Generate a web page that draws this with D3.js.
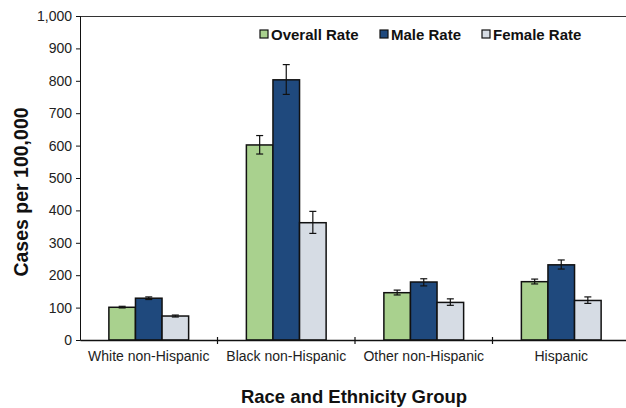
<!DOCTYPE html>
<html>
<head>
<meta charset="utf-8">
<script src="https://cdn.jsdelivr.net/npm/d3@7"></script>
<style>
  body { margin: 0; background: #fff; }
  svg text { font-family: "Liberation Sans", Arial, sans-serif; }
</style>
</head>
<body>
<div id="chart"></div>
<script>
// data
var categories = ['White non-Hispanic', 'Black non-Hispanic', 'Other non-Hispanic', 'Hispanic'];
var seriesNames = ['Overall Rate', 'Male Rate', 'Female Rate'];
var seriesColors = ['#a9d18e', '#1f497d', '#d6dce4'];
var overallRate = [101, 602, 146, 180];
var maleRate = [129, 803, 179, 232];
var femaleRate = [74, 362, 116, 122];
var overallErr = [[99, 104], [574, 631], [139, 154], [173, 188]];
var maleErr = [[125, 133], [758, 850], [167, 189], [219, 247]];
var femaleErr = [[71, 77], [329, 397], [107, 127], [113, 133]];
var yTicks = [0, 100, 200, 300, 400, 500, 600, 700, 800, 900, 1000];

var W = 626, H = 408;
var margin = {top: 16, left: 80, bottom: 68};
var plotW = 550, plotH = H - margin.top - margin.bottom;

var svg = d3.select('#chart').append('svg')
	.attr('width', W)
	.attr('height', H);

var g = svg.append('g')
	.attr('transform', 'translate(' + margin.left + ',' + margin.top + ')');

var x = d3.scaleBand()
	.domain(categories)
	.range([0, plotW])
	.paddingInner(0.42)
	.paddingOuter(0.21);

var xSub = d3.scaleBand()
	.domain(seriesNames)
	.range([0, x.bandwidth()]);

var y = d3.scaleLinear()
	.domain([0, 1000])
	.range([plotH, 0]);

// top border of plot area
g.append('line')
	.attr('x1', 0).attr('x2', plotW)
	.attr('y1', 0.5).attr('y2', 0.5)
	.attr('stroke', '#333')
	.attr('stroke-width', 1);

var values = [overallRate, maleRate, femaleRate];
var errs = [overallErr, maleErr, femaleErr];

seriesNames.forEach(function (name, si) {
	g.selectAll('.bar' + si)
		.data(categories)
		.enter()
		.append('rect')
		.attr('x', function (d) { return x(d) + xSub(name); })
		.attr('y', function (d, i) { return y(values[si][i]); })
		.attr('width', xSub.bandwidth())
		.attr('height', function (d, i) { return plotH - y(values[si][i]); })
		.attr('fill', seriesColors[si])
		.attr('stroke', '#111')
		.attr('stroke-width', 1.5);
});

// error bars
seriesNames.forEach(function (name, si) {
	categories.forEach(function (c, i) {
		var cx = x(c) + xSub(name) + xSub.bandwidth() / 2;
		var lo = y(errs[si][i][0]), hi = y(errs[si][i][1]);
		var eb = g.append('g').attr('stroke', '#111').attr('stroke-width', 1.2);
		eb.append('line').attr('x1', cx).attr('x2', cx).attr('y1', lo).attr('y2', hi);
		eb.append('line').attr('x1', cx - 3.5).attr('x2', cx + 3.5).attr('y1', lo).attr('y2', lo);
		eb.append('line').attr('x1', cx - 3.5).attr('x2', cx + 3.5).attr('y1', hi).attr('y2', hi);
	});
});

// y axis
var yAxis = g.append('g')
	.call(d3.axisLeft(y).tickValues(yTicks).tickSize(4).tickPadding(4)
		.tickFormat(d3.format(',')));
yAxis.select('.domain').attr('stroke', '#111');
yAxis.selectAll('.tick line').attr('stroke', '#111');
yAxis.selectAll('text').attr('font-size', 14).attr('fill', '#222');

// x axis
var xAxis = g.append('g')
	.attr('transform', 'translate(0,' + plotH + ')')
	.call(d3.axisBottom(x).tickSize(0).tickPadding(11));
xAxis.select('.domain').attr('stroke', '#111').attr('stroke-width', 1.5);
xAxis.selectAll('text').attr('font-size', 14).attr('fill', '#222');

// separators between categories
var step = x.step();
g.selectAll('.sep')
	.data(categories.slice(1))
	.enter()
	.append('line')
	.attr('x1', function (d) { return x(d) - x.paddingInner() * step / 2; })
	.attr('x2', function (d) { return x(d) - x.paddingInner() * step / 2; })
	.attr('y1', plotH - 3).attr('y2', plotH + 4)
	.attr('stroke', '#111')
	.attr('stroke-width', 1.2);

// axis titles
svg.append('text')
	.attr('x', margin.left + 274)
	.attr('y', 403)
	.attr('text-anchor', 'middle')
	.attr('font-size', 18.5)
	.attr('font-weight', 'bold')
	.attr('fill', '#111')
	.text('Race and Ethnicity Group');

svg.append('text')
	.attr('transform', 'translate(28,192) rotate(-90)')
	.attr('text-anchor', 'middle')
	.attr('font-size', 19.5)
	.attr('font-weight', 'bold')
	.attr('fill', '#111')
	.text('Cases per 100,000');

// legend
var legendX = [260, 380, 482];
var legend = svg.selectAll('.legend')
	.data(seriesNames)
	.enter()
	.append('g')
	.attr('transform', function (d, i) { return 'translate(' + legendX[i] + ',34)'; });
legend.append('rect')
	.attr('x', 0).attr('y', -4)
	.attr('width', 8).attr('height', 8)
	.attr('fill', function (d, i) { return seriesColors[i]; })
	.attr('stroke', '#111')
	.attr('stroke-width', 1.2);
legend.append('text')
	.attr('x', 11).attr('y', 5.5)
	.attr('font-size', 15)
	.attr('font-weight', 'bold')
	.attr('fill', '#111')
	.text(function (d) { return d; });
</script>
</body>
</html>
